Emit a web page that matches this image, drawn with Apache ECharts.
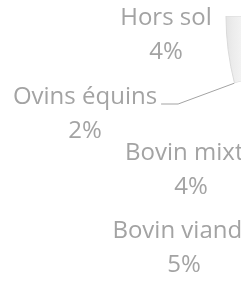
<!DOCTYPE html>
<html>
<head>
<meta charset="utf-8">
<script src="https://cdn.jsdelivr.net/npm/echarts@6/dist/echarts.min.js"></script>
<style>
  html, body { margin: 0; padding: 0; background: #fff; }
  #chart { width: 241px; height: 282px; }
</style>
</head>
<body>
<div id="chart"></div>
<script>
// part visible of the pie (rest is outside the crop)
const categories = ['Hors sol', 'Ovins équins', 'Bovin mixte', 'Bovin viande', 'Autres']
const values = [4, 2, 4, 5, 85]

// pie geometry, centre lies outside the crop on the right
const CX = 496, CY = 16, R = 270, START = 180

// where each label sits (centre of the two lines)
const labelPos = [[166, 35], [85, 114], [191, 170], [184, 248]]

const myChart = echarts.init(document.getElementById('chart'))

const greySlice = {
    type: 'linear', x: 224, y: 0, x2: 246, y2: 0, global: true,
    colorStops: [
        { offset: 0, color: '#e2e2e2' },
        { offset: 0.4, color: '#ececec' },
        { offset: 1, color: '#f6f6f6' }
    ]
}

const data = categories.map((name, i) => {
    const item = {
        name: name,
        value: values[i],
        itemStyle: { color: '#ffffff' }
    }
    if (i === 0) {
        item.itemStyle = { color: greySlice, borderColor: '#dadada', borderWidth: 1 }
    }
    if (i === 1) {
        item.labelLine = { show: true }
    }
    if (i === 4) {
        item.label = { show: false }
    }
    return item
})

// anchor of the leader line: on the rim, at the end of the first slice
function sliceAnchor(index) {
    const total = values.reduce((a, b) => a + b, 0)
    let acc = 0
    for (let k = 0; k < index; k++) acc += values[k]
    const a = (START + 360 * acc / total) * Math.PI / 180
    return [CX + R * Math.cos(a), CY - R * Math.sin(a)]
}

myChart.setOption({
    animation: false,
    series: [{
        type: 'pie',
        center: [CX, CY],
        radius: R,
        startAngle: START,
        clockwise: false,
        avoidLabelOverlap: false,
        data: data,
        label: {
            show: true,
            position: 'outside',
            formatter: '{b}\n{c}%',
            fontFamily: 'Open Sans',
            fontSize: 24,
            lineHeight: 34,
            color: '#a3a3a3',
            align: 'center'
        },
        labelLine: {
            show: false,
            length: 10,
            length2: 15,
            lineStyle: { color: '#a3a3a3', width: 1 }
        },
        labelLayout: function (p) {
            const pos = labelPos[p.dataIndex]
            if (!pos) return {}
            const out = { x: pos[0], y: pos[1], align: 'center', verticalAlign: 'middle' }
            if (p.dataIndex === 1) {
                const right = pos[0] + p.labelRect.width / 2
                const ly = pos[1] - 10
                out.labelLinePoints = [
                    sliceAnchor(1),
                    [right + 21, ly],
                    [right + 4, ly]
                ]
            }
            return out
        }
    }]
})
</script>
</body>
</html>
